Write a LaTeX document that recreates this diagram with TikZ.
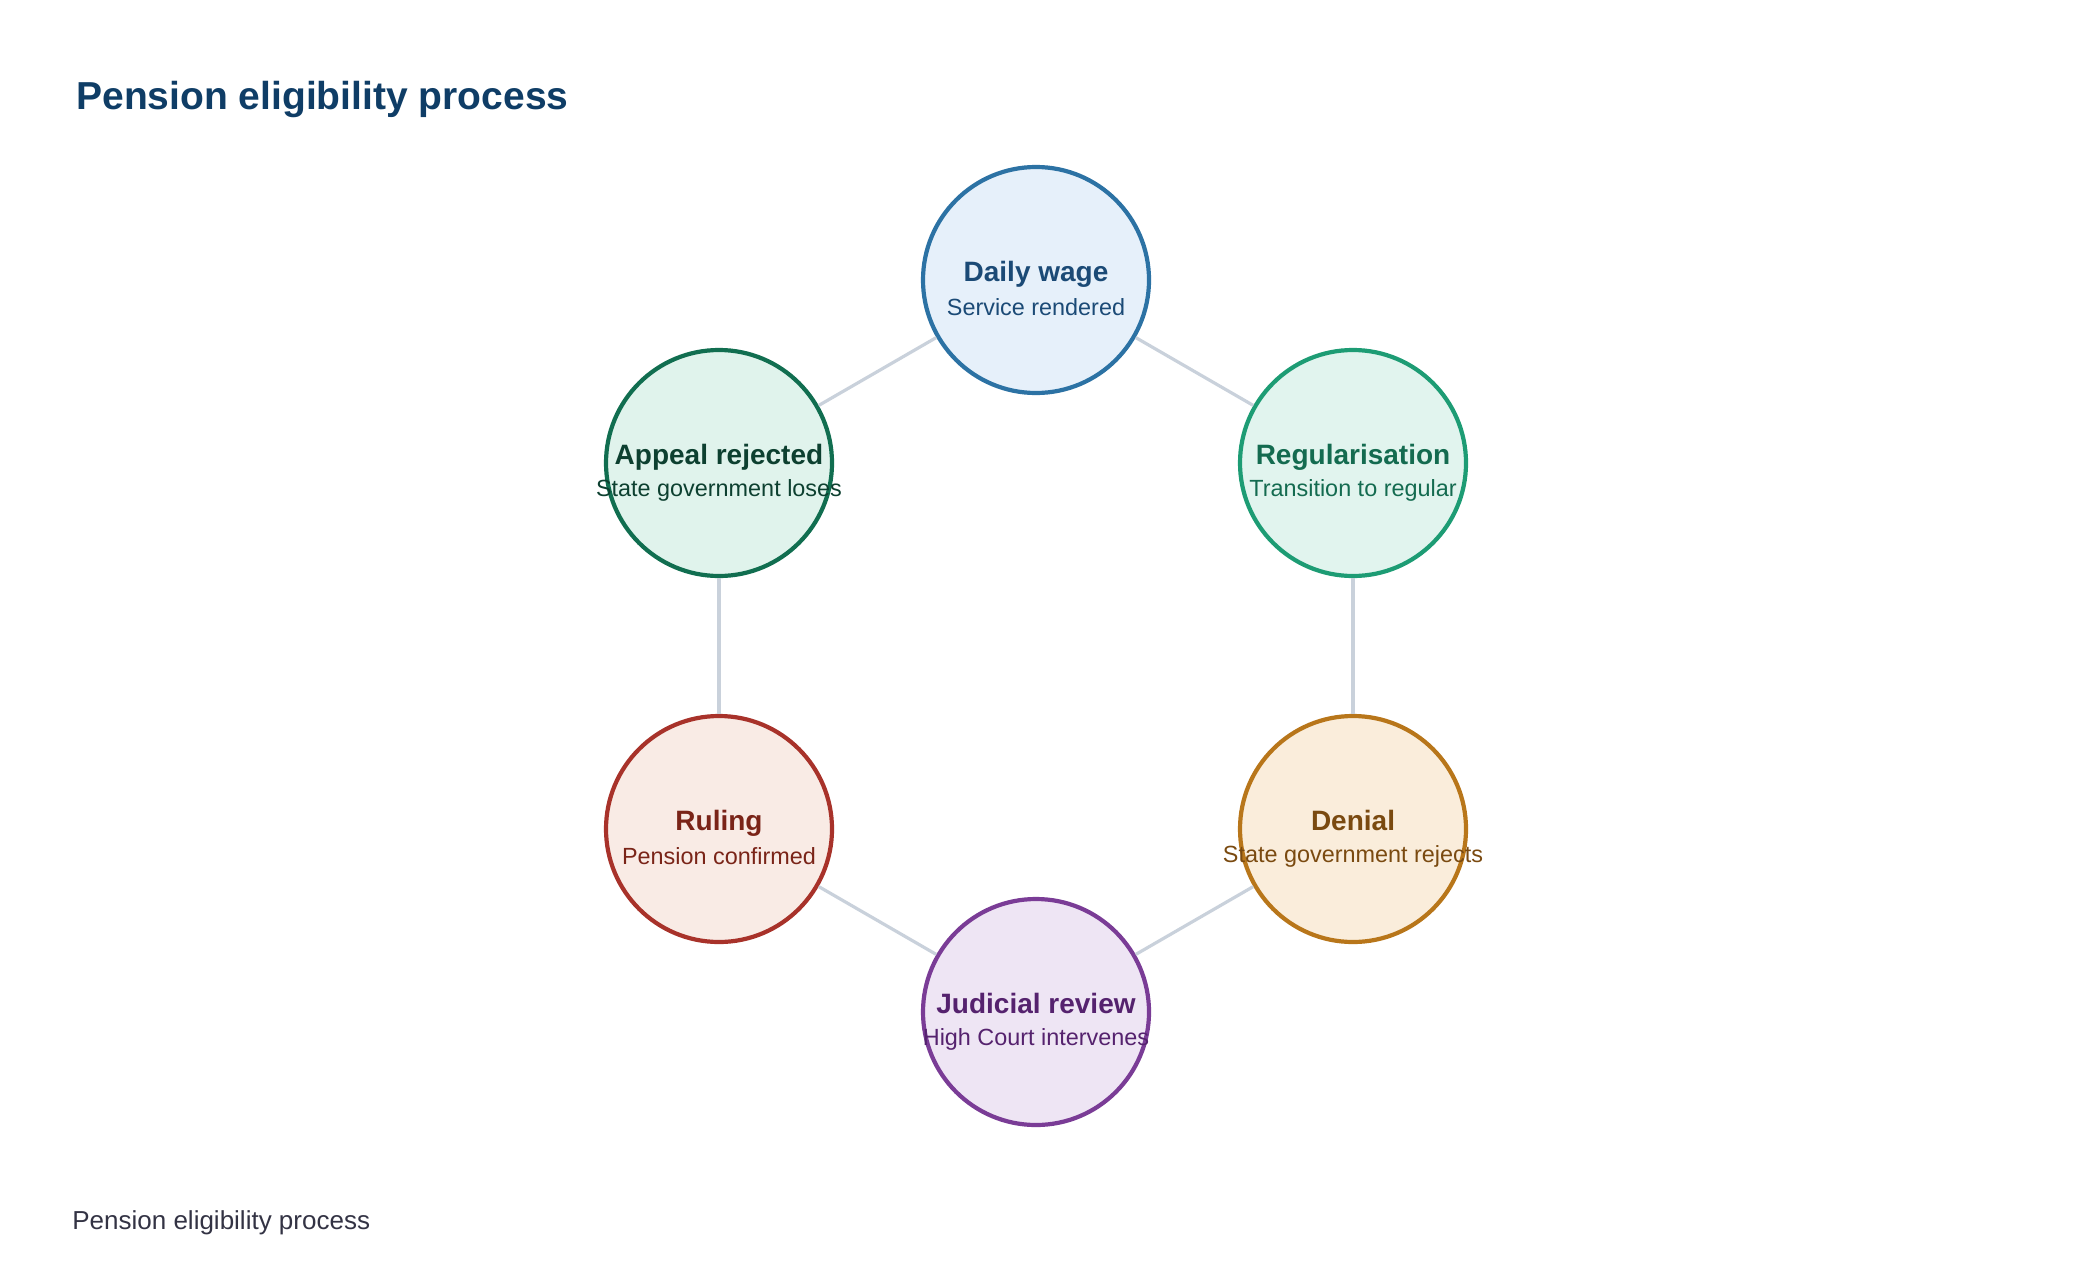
\documentclass[tikz,border=0pt]{standalone}
\usepackage{fontspec}
\setmainfont{Liberation Sans}
\definecolor{edgec}{HTML}{C9D1DB}
\definecolor{titlec}{HTML}{0F3D66}
\definecolor{footc}{HTML}{333344}
\definecolor{aS}{HTML}{2C72A4}\definecolor{aF}{HTML}{E6F0FA}\definecolor{aT}{HTML}{1B4A76}
\definecolor{bS}{HTML}{1D9C74}\definecolor{bF}{HTML}{E1F4EE}\definecolor{bT}{HTML}{146B50}
\definecolor{cS}{HTML}{B8761A}\definecolor{cF}{HTML}{FAEDDB}\definecolor{cT}{HTML}{7A4A10}
\definecolor{dS}{HTML}{7A3C96}\definecolor{dF}{HTML}{EEE5F4}\definecolor{dT}{HTML}{55226E}
\definecolor{eS}{HTML}{A8322A}\definecolor{eF}{HTML}{F9EBE5}\definecolor{eT}{HTML}{7A2418}
\definecolor{fS}{HTML}{116E50}\definecolor{fF}{HTML}{E0F3EC}\definecolor{fT}{HTML}{0D4030}
\begin{document}
\begin{tikzpicture}[x=0.5pt,y=-0.5pt,
  stage/.style={circle,draw=#1S,fill=#1F,line width=2.1pt,minimum size=113pt,inner sep=0pt},
  head/.style={font=\fontsize{14}{16}\selectfont\bfseries,text=#1T,text height=0.75em,text depth=0.21em},
  sub/.style={font=\fontsize{11.7}{13}\selectfont,text=#1T},
  link/.style={draw=edgec,line width=1.6pt}]
\useasboundingbox (0,0) rectangle (2080,1284);
\node[anchor=base west,inner sep=0pt,text=titlec,font=\fontsize{19.5}{22}\selectfont\bfseries] (title) at (76,110) {Pension eligibility process};
\node[anchor=base west,inner sep=0pt,text=footc,font=\fontsize{13}{16}\selectfont] (foot) at (72,1229) {Pension eligibility process};
\node[stage=a] (n1) at (1036,280) {};
\node[stage=b] (n2) at (1353,463) {};
\node[stage=c] (n3) at (1353,829) {};
\node[stage=d] (n4) at (1036,1012) {};
\node[stage=e] (n5) at (719,829) {};
\node[stage=f] (n6) at (719,463) {};
\draw[link] (n1) -- (n2);
\draw[link] (n2) -- (n3);
\draw[link] (n3) -- (n4);
\draw[link] (n4) -- (n5);
\draw[link] (n5) -- (n6);
\draw[link] (n6) -- (n1);
\foreach \n/\c/\h/\s in {n1/a/Daily wage/Service rendered,n2/b/Regularisation/Transition to regular,n3/c/Denial/State government rejects,n4/d/Judicial review/High Court intervenes,n5/e/Ruling/Pension confirmed,n6/f/Appeal rejected/State government loses}{
  \node[head=\c] (\n h) at ([yshift=2.1pt]\n.center) {\h};
  \node[sub=\c] (\n s) at ([yshift=-13.5pt]\n.center) {\s};
}
\end{tikzpicture}
\end{document}
